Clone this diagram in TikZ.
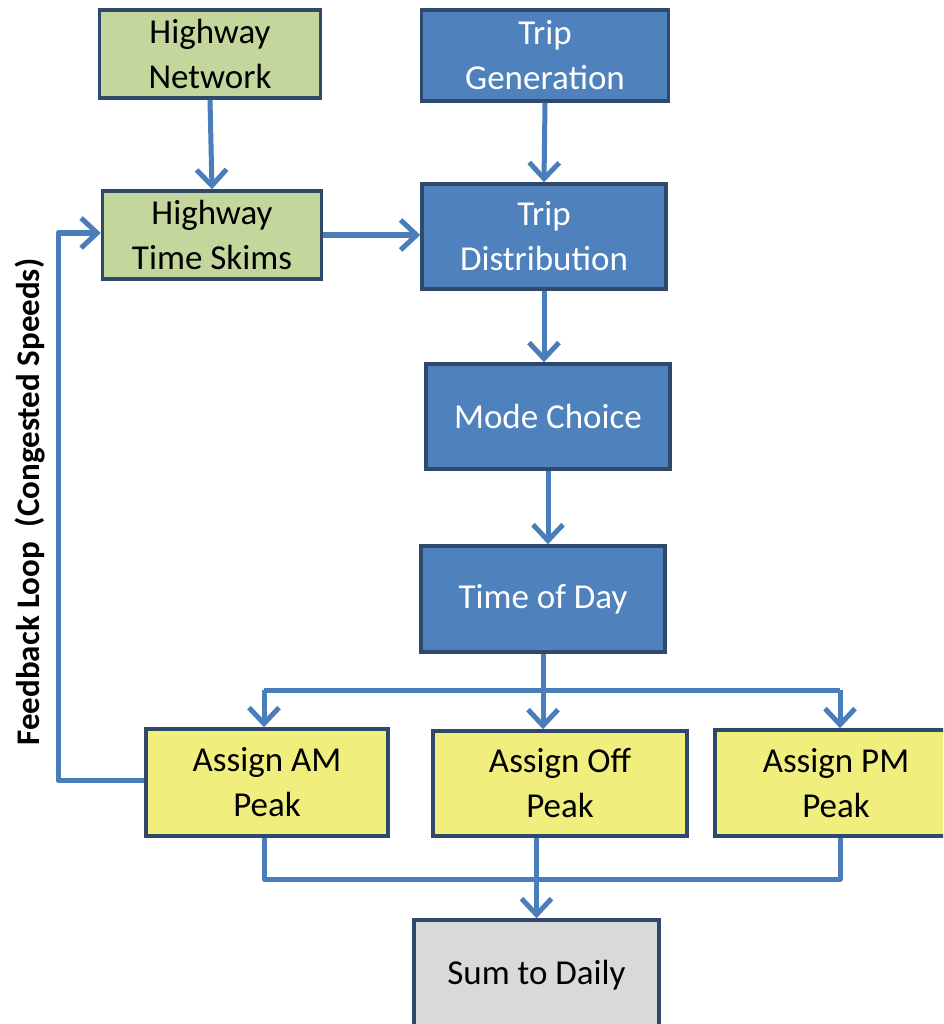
\documentclass[tikz,border=0pt]{standalone}
\usepackage{fontspec}
\setmainfont{Carlito}
\usetikzlibrary{arrows.meta}
\definecolor{boxgreen}{RGB}{195,214,155}
\definecolor{boxblue}{RGB}{79,129,189}
\definecolor{boxyellow}{RGB}{240,238,125}
\definecolor{boxgrey}{RGB}{217,217,217}
\definecolor{edgedark}{RGB}{48,72,106}
\definecolor{linkblue}{RGB}{74,126,187}
\tikzset{
  box/.style={draw=edgedark, line width=3.5pt, align=center, inner sep=0pt,
    font=\fontsize{35}{45}\selectfont},
  greenbox/.style={box, fill=boxgreen, text=black},
  bluebox/.style={box, fill=boxblue, text=white},
  yellowbox/.style={box, fill=boxyellow, text=black},
  greybox/.style={box, fill=boxgrey, text=black},
  link/.style={draw=linkblue, line width=5pt},
  linkarrow/.style={link, -{Straight Barb[length=16pt,width=30pt]}},
}
\begin{document}
\begin{tikzpicture}[x=1pt,y=-1pt]
\useasboundingbox (0,0) rectangle (943,1024);
\clip (0,0) rectangle (943,1024);
\node[greenbox, minimum width=221pt, minimum height=88pt] (hn) at (210,54) {Highway\\Network};
\node[bluebox, minimum width=247pt, minimum height=91pt] (tg) at (545,55.5) {Trip\\Generation};
\node[greenbox, minimum width=219pt, minimum height=88pt] (hts) at (212,235) {Highway\\Time Skims};
\node[bluebox, minimum width=244pt, minimum height=105pt] (td) at (544,236.5) {Trip\\Distribution};
\node[bluebox, minimum width=244pt, minimum height=105pt] (mc) at (548,416.5) {Mode Choice};
\node[bluebox, minimum width=244pt, minimum height=106pt] (tod) at (543,599) {Time of Day};
\node[yellowbox, minimum width=242pt, minimum height=107pt] (am) at (267,782.5) {Assign AM\\Peak};
\node[yellowbox, minimum width=254pt, minimum height=105pt] (off) at (560,783.5) {Assign Off\\Peak};
\node[yellowbox, minimum width=242pt, minimum height=106pt] (pm) at (836,783) {Assign PM\\Peak};
\node[greybox, minimum width=245pt, minimum height=110pt] (sum) at (536.5,975) {Sum to Daily};
% straight links
\draw[linkarrow] (hn.south) -- (hts.north);
\draw[linkarrow] (tg.south) -- (td.north);
\draw[linkarrow] (hts.east) -- (td.west |- hts.east);
\draw[linkarrow] (td.south) -- (td.south |- mc.north);
\draw[linkarrow] (mc.south) -- (mc.south |- tod.north);
% split
\coordinate (split) at (543,690);
\coordinate (splitL) at (264,690);
\coordinate (splitR) at (840,690);
\draw[link] (tod.south) -- (split);
\draw[link] (splitL) -- (splitR);
\draw[linkarrow] (splitL) -- (splitL |- am.north);
\draw[linkarrow] (split) -- (split |- off.north);
\draw[linkarrow] (splitR) -- (splitR |- pm.north);
% merge
\coordinate (mergeL) at (264,879);
\coordinate (mergeR) at (840,879);
\draw[link, line join=round] (am.south -| mergeL) -- (mergeL) -- (mergeR) -- (pm.south -| mergeR);
\draw[linkarrow] (off.south -| sum.north) -- (sum.north);
% feedback
\coordinate (fb1) at (58,780);
\coordinate (fb2) at (58,233);
\draw[linkarrow, line join=round] (am.west |- fb1) -- (fb1) -- (fb2) -- (hts.west |- fb2);
\node[rotate=90, font=\fontsize{33}{38}\bfseries\selectfont] (fbl) at (30,502) {Feedback Loop\ \ (Congested Speeds)};
\end{tikzpicture}
\end{document}
